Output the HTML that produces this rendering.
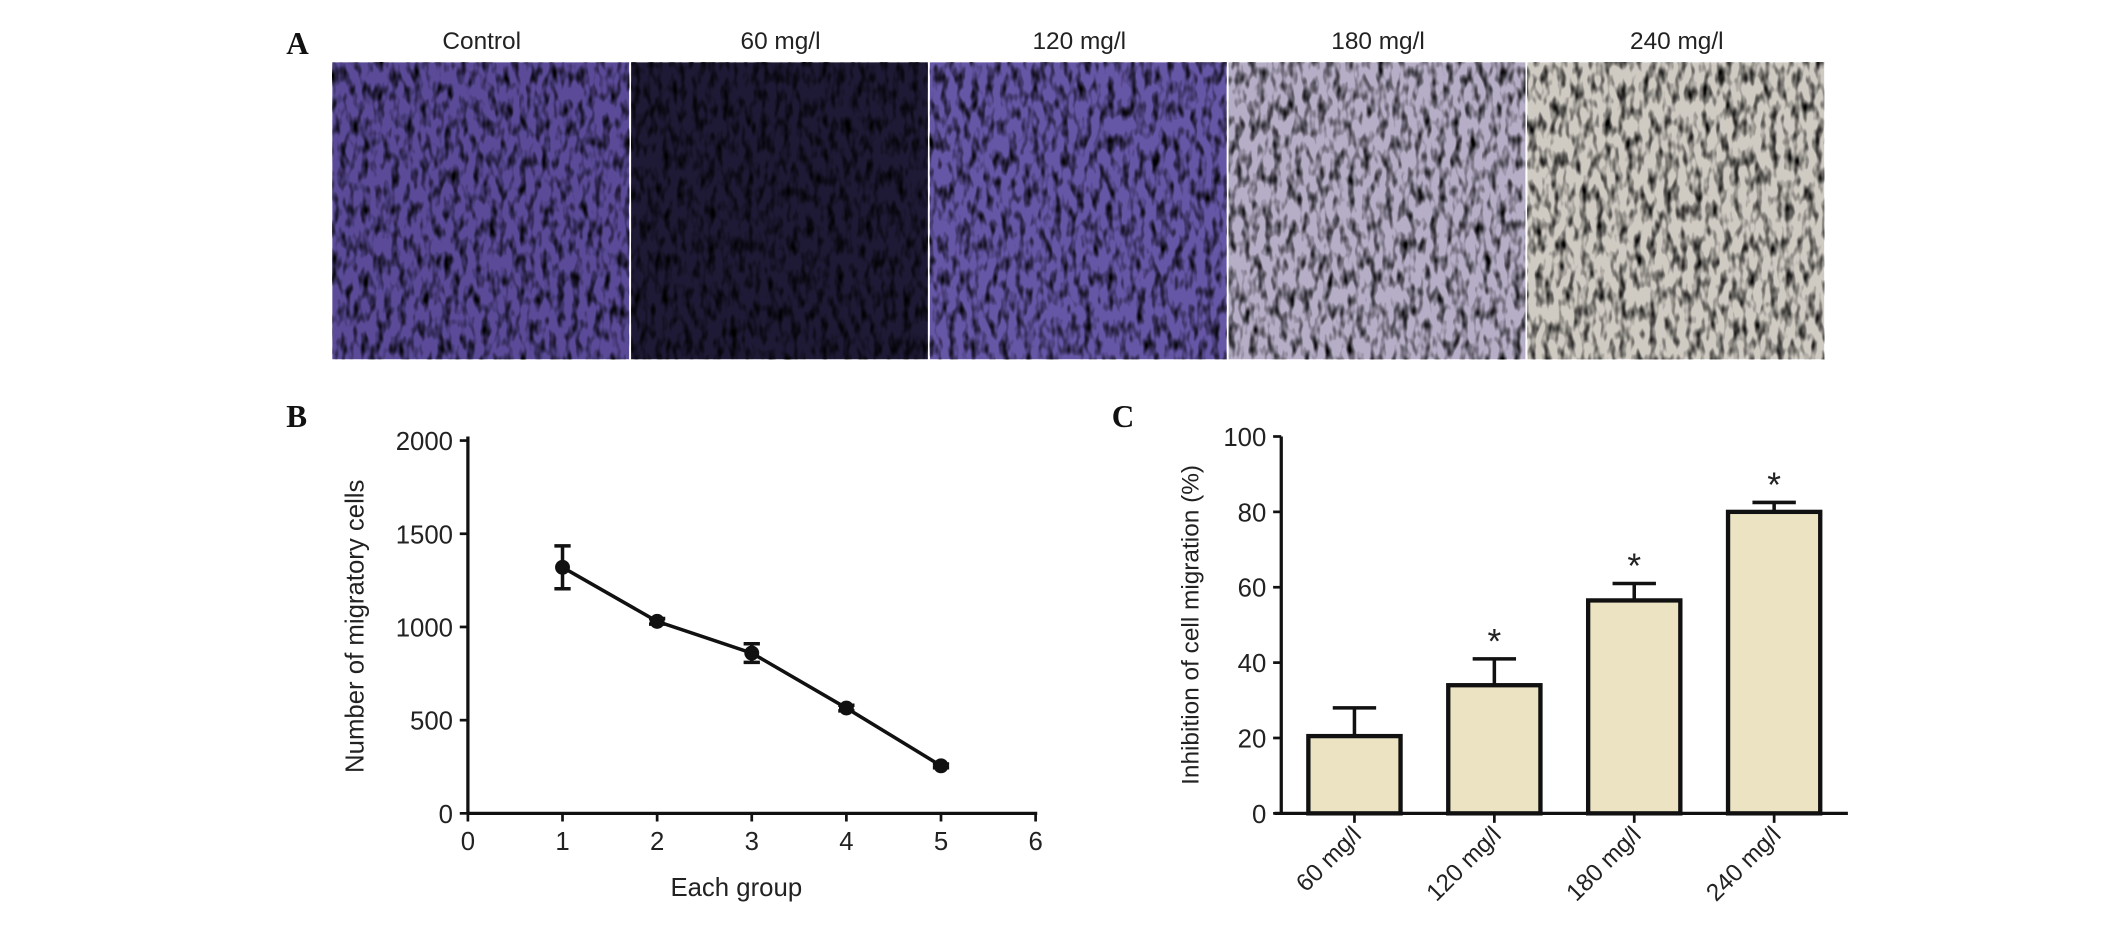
<!DOCTYPE html>
<html><head><meta charset="utf-8"><style>
html,body{margin:0;padding:0;background:#fff;}
svg{display:block;}
text{font-family:"Liberation Sans",sans-serif;fill:#222;}
.pl{font-family:"Liberation Serif",serif;font-weight:bold;font-size:23px;fill:#111;}
</style></head><body>
<svg id="fig" width="2126" height="934" viewBox="0 0 1568 689" xmlns="http://www.w3.org/2000/svg">
<defs>
<filter id="tex" x="0" y="0" width="100%" height="100%">
<feTurbulence type="fractalNoise" baseFrequency="0.18 0.08" numOctaves="2" seed="3"/>
<feColorMatrix type="matrix" values="0 0 0 0 0  0 0 0 0 0  0 0 0 0 0  0 0 0 -2.4 1.35"/>
</filter>
</defs>
<text class="pl" x="211" y="40">A</text>
<g id="photos"></g>
<text class="pl" x="211" y="315">B</text>
<g id="chartB"></g>
<text class="pl" x="820" y="315">C</text>
<g id="chartC"></g>
</svg>
<script>
const NS="http://www.w3.org/2000/svg";
const photoLabels=["Control","60 mg/l","120 mg/l","180 mg/l","240 mg/l"];
const photoBase=["#5a4a98","#1e1934","#6656a6","#b6aec6","#cfcac2"];
const photoInk=["#1c1452","#0e0a24","#261a72","#2c2270","#121222"];
const groupsB=[1,2,3,4,5];
const cellsB=[1320,1030,860,565,255];
const errB=[115,15,50,15,10];
const yTicksB=[0,500,1000,1500,2000];
const xTicksB=[0,1,2,3,4,5,6];
const catsC=["60 mg/l","120 mg/l","180 mg/l","240 mg/l"];
const valsC=[20.5,34,56.5,80];
const errC=[7.5,7,4.5,2.5];
const sigC=[false,true,true,true];
const yTicksC=[0,20,40,60,80,100];

function el(tag,attrs,parent,txt){const e=document.createElementNS(NS,tag);for(const k in attrs)e.setAttribute(k,attrs[k]);if(txt!==undefined)e.textContent=txt;parent.appendChild(e);return e;}

// Panel A
const ph=document.getElementById('photos');
const px0=245,pw=220.4,py0=46,phh=219;
photoLabels.forEach((l,i)=>{
  const x=px0+i*pw;
  const r=el('rect',{x:x,y:py0,width:pw-1.5,height:phh,fill:photoBase[i]},ph);
  
  
  const t=el('rect',{x:x,y:py0,width:pw-1.5,height:phh,fill:photoInk[i],filter:'url(#tex)'},ph);
  
  
  const tx=el('text',{x:x+pw/2,y:36,'text-anchor':'middle','font-size':18},ph,l);
  
  
});

// Panel B
const gB=document.getElementById('chartB');
const bx=v=>345+v*69.8, by=v=>600-v*0.1375;
el('line',{x1:345,y1:322,x2:345,y2:600,stroke:'#111','stroke-width':2.4},gB);
el('line',{x1:345,y1:600,x2:765,y2:600,stroke:'#111','stroke-width':2.4},gB);
yTicksB.forEach(v=>{
  el('line',{x1:339,y1:by(v),x2:345,y2:by(v),stroke:'#111','stroke-width':2},gB);
  const t=el('text',{x:334,y:by(v)+7,'text-anchor':'end','font-size':19},gB,v);
  
  
});
xTicksB.forEach(v=>{
  el('line',{x1:bx(v),y1:600,x2:bx(v),y2:606,stroke:'#111','stroke-width':2},gB);
  const t=el('text',{x:bx(v),y:627,'text-anchor':'middle','font-size':19},gB,v);
  
  
});
let yl=el('text',{x:0,y:0,'text-anchor':'middle','font-size':19,transform:'translate(268,462) rotate(-90)'},gB,'Number of migratory cells');

let xl=el('text',{x:543,y:661,'text-anchor':'middle','font-size':19},gB,'Each group');

el('polyline',{points:groupsB.map((g,i)=>bx(g)+','+by(cellsB[i])).join(' '),fill:'none',stroke:'#111','stroke-width':2.6},gB);
groupsB.forEach((g,i)=>{
  const x=bx(g),yt=by(cellsB[i]+errB[i]),yb=by(cellsB[i]-errB[i]);
  const e=el('path',{d:`M${x},${yt}V${yb}M${x-6},${yt}H${x+6}M${x-6},${yb}H${x+6}`,stroke:'#111','stroke-width':2.6,fill:'none'},gB);
  
  const p=el('circle',{cx:x,cy:by(cellsB[i]),r:5.5,fill:'#111'},gB);
  
  
});

// Panel C
const gC=document.getElementById('chartC');
const cx=i=>999+i*103.2, cy=v=>600-v*2.78, bw=68;
el('line',{x1:945,y1:322,x2:945,y2:600,stroke:'#111','stroke-width':2.4},gC);
el('line',{x1:940,y1:600,x2:1363,y2:600,stroke:'#111','stroke-width':2.4},gC);
yTicksC.forEach(v=>{
  el('line',{x1:939,y1:cy(v),x2:945,y2:cy(v),stroke:'#111','stroke-width':2},gC);
  const t=el('text',{x:934,y:cy(v)+7,'text-anchor':'end','font-size':19},gC,v);
  
  
});
let ylc=el('text',{x:0,y:0,'text-anchor':'middle','font-size':18,transform:'translate(884,461) rotate(-90)'},gC,'Inhibition of cell migration (%)');

catsC.forEach((c,i)=>{
  const x=cx(i),top=cy(valsC[i]),et=cy(valsC[i]+errC[i]);
  const e=el('path',{d:`M${x},${top}V${et}M${x-16},${et}H${x+16}`,stroke:'#111','stroke-width':2.6,fill:'none'},gC);
  
  const b=el('rect',{x:x-bw/2,y:top,width:bw,height:600-top,fill:'#ece3c3',stroke:'#111','stroke-width':3.2},gC);
  
  
  el('line',{x1:x,y1:600,x2:x,y2:607,stroke:'#111','stroke-width':2},gC);
  const t=el('text',{x:0,y:0,'text-anchor':'end','font-size':18,transform:`translate(${x+6},${617}) rotate(-45)`},gC,c);
  
  
  if(sigC[i]){
    const s=el('text',{x:x,y:et-4,'text-anchor':'middle','font-size':26},gC,'*');
    
    
  }
});
</script>
</body></html>
